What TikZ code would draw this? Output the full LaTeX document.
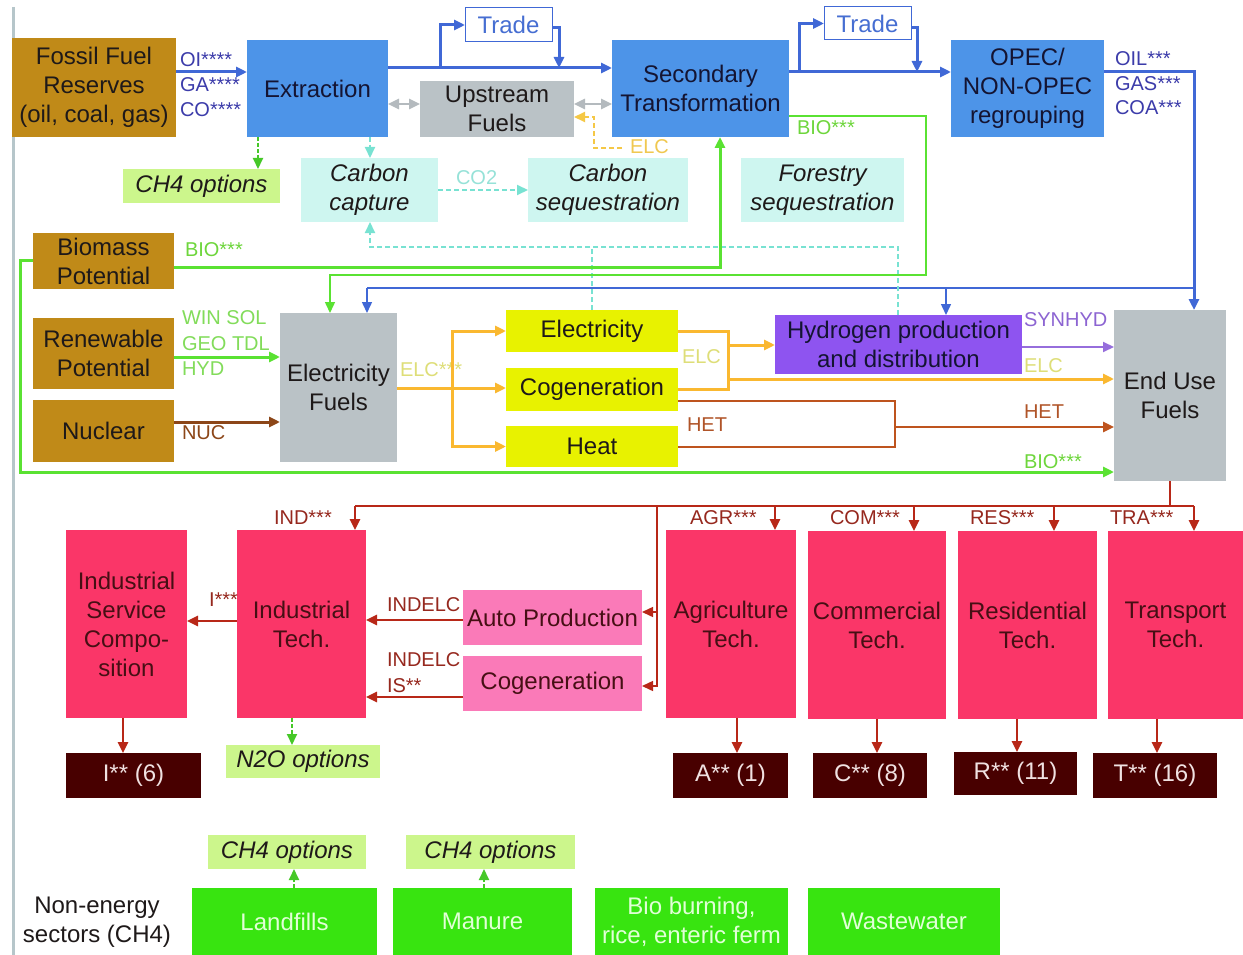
\documentclass[tikz,border=0pt]{standalone}
\usepackage{fontspec}
\setmainfont{Liberation Sans}
\usetikzlibrary{arrows.meta}
\definecolor{brownbox}{RGB}{192,138,24}
\definecolor{bluebox}{RGB}{77,148,232}
\definecolor{graybox}{RGB}{186,194,198}
\definecolor{lcyan}{RGB}{206,246,240}
\definecolor{lgreen}{RGB}{204,246,140}
\definecolor{yellowbox}{RGB}{232,242,0}
\definecolor{purplebox}{RGB}{142,84,240}
\definecolor{pinkbox}{RGB}{250,54,104}
\definecolor{lpink}{RGB}{250,122,184}
\definecolor{maroon}{RGB}{72,0,0}
\definecolor{brightgreen}{RGB}{56,228,16}
\definecolor{blueln}{RGB}{64,104,214}
\definecolor{greenln}{RGB}{90,226,50}
\definecolor{orangeln}{RGB}{250,184,48}
\definecolor{redln}{RGB}{184,40,24}
\definecolor{brownln}{RGB}{140,70,24}
\definecolor{hetln}{RGB}{190,84,30}
\definecolor{cyanln}{RGB}{120,226,210}
\definecolor{grayln}{RGB}{180,186,190}
\definecolor{purpleln}{RGB}{150,110,220}
\definecolor{bargray}{RGB}{182,198,202}
\definecolor{gdashln}{RGB}{70,200,40}
\definecolor{ydashln}{RGB}{245,200,70}
\definecolor{txtblue}{RGB}{60,60,170}
\definecolor{txtgreen}{RGB}{110,214,60}
\definecolor{txtgreenb}{RGB}{130,220,90}
\definecolor{txtelc}{RGB}{222,222,120}
\definecolor{txtelcb}{RGB}{240,200,80}
\definecolor{txthet}{RGB}{176,84,40}
\definecolor{txtred}{RGB}{150,40,30}
\definecolor{txtpurple}{RGB}{140,100,210}
\definecolor{txtcyan}{RGB}{150,226,216}
\definecolor{boxtxt}{RGB}{30,25,25}
\definecolor{bluetxt}{RGB}{20,20,50}
\definecolor{pinktxt}{RGB}{70,15,20}
\definecolor{outtxt}{RGB}{240,225,225}
\definecolor{greentxt}{RGB}{225,255,215}
\definecolor{tradetxt}{RGB}{70,110,210}
\begin{document}
\begin{tikzpicture}[x=1pt,y=-1pt,
  >={Triangle[length=11pt,width=10pt]},
  every node/.style={inner sep=0pt, outer sep=0pt, align=center, font=\fontsize{24}{29}\selectfont},
  box/.style={rectangle, text=boxtxt},
  ital/.style={font=\fontsize{24}{29}\selectfont\itshape},
  tradebox/.style={rectangle, draw=blueln, line width=1pt, fill=white, text=tradetxt},
  outbox/.style={rectangle, fill=maroon, text=outtxt},
  techbox/.style={rectangle, fill=pinkbox, text=pinktxt, minimum height=188pt},
  ngbox/.style={rectangle, fill=brightgreen, text=greentxt, minimum height=67pt},
  lbl/.style={anchor=west, font=\fontsize{20}{22}\selectfont},
  lnBlue/.style={draw=blueln, line width=3pt},
  lnBlueThin/.style={draw=blueln, line width=1.5pt},
  lnGreen/.style={draw=greenln, line width=3pt},
  lnGreenThin/.style={draw=greenln, line width=1.5pt},
  lnOrange/.style={draw=orangeln, line width=3pt},
  lnHet/.style={draw=hetln, line width=2.5pt},
  lnBrown/.style={draw=brownln, line width=3pt},
  lnPurple/.style={draw=purpleln, line width=2pt},
  lnCyan/.style={draw=cyanln, line width=2pt, dash pattern=on 5pt off 3pt},
  lnGdash/.style={draw=gdashln, line width=2pt, dash pattern=on 4pt off 2pt},
  lnGray/.style={draw=grayln, line width=2.5pt},
  lnYdash/.style={draw=ydashln, line width=2pt, dash pattern=on 5pt off 3pt},
  lnRed/.style={draw=redln, line width=2.5pt},
  lnRedThin/.style={draw=redln, line width=1.5pt}
]
\fill[white] (0,0) rectangle (1243,955);
\useasboundingbox (0,0) rectangle (1243,955);
\draw[line width=3pt, draw=bargray] (13,7) -- (13,955);

% ---- top row
\node[box, fill=brownbox, minimum width=164pt, minimum height=99pt] (fossil) at (94,87.5) {Fossil Fuel\\Reserves\\(oil, coal, gas)};
\node[box, fill=bluebox, text=bluetxt, minimum width=141pt, minimum height=97pt] (extr) at (317.5,88.5) {Extraction};
\node[box, fill=graybox, minimum width=154pt, minimum height=56pt] (upstr) at (497,109) {Upstream\\Fuels};
\node[box, fill=bluebox, text=bluetxt, minimum width=177pt, minimum height=97pt] (second) at (700.5,88.5) {Secondary\\Transformation};
\node[box, fill=bluebox, text=bluetxt, minimum width=153pt, minimum height=97pt] (opec) at (1027.5,88.5) {OPEC/\\NON-OPEC\\regrouping};
\node[tradebox, minimum width=87pt, minimum height=34pt] (trade1) at (508.5,25) {Trade};
\node[tradebox, minimum width=87pt, minimum height=33pt] (trade2) at (867.5,23.5) {Trade};

\node[box, ital, fill=lgreen, minimum width=157pt, minimum height=34pt] (ch4a) at (201.5,186) {CH4 options};
\node[box, ital, fill=lcyan, minimum width=137pt, minimum height=64pt] (ccap) at (369.5,190) {Carbon\\capture};
\node[box, ital, fill=lcyan, minimum width=160pt, minimum height=64pt] (cseq) at (608,190) {Carbon\\sequestration};
\node[box, ital, fill=lcyan, minimum width=163pt, minimum height=64pt] (fseq) at (822.5,190) {Forestry\\sequestration};

% ---- middle
\node[box, fill=brownbox, minimum width=141pt, minimum height=56pt] (biom) at (103.5,261) {Biomass\\Potential};
\node[box, fill=brownbox, minimum width=141pt, minimum height=71pt] (renew) at (103.5,353.5) {Renewable\\Potential};
\node[box, fill=brownbox, minimum width=141pt, minimum height=62pt] (nucl) at (103.5,431) {Nuclear};
\node[box, fill=graybox, minimum width=117pt, minimum height=149pt] (elfuel) at (338.5,387.5) {Electricity\\Fuels};
\node[box, fill=yellowbox, minimum width=172pt, minimum height=42pt] (elec) at (592,331) {Electricity};
\node[box, fill=yellowbox, minimum width=172pt, minimum height=43pt] (cogen) at (592,389.5) {Cogeneration};
\node[box, fill=yellowbox, minimum width=172pt, minimum height=41pt] (heat) at (592,446.5) {Heat};
\node[box, fill=purplebox, text=bluetxt, minimum width=247pt, minimum height=59pt] (hydro) at (898.5,344.5) {Hydrogen production\\and distribution};
\node[box, fill=graybox, minimum width=112pt, minimum height=171pt] (enduse) at (1170,395.5) {End Use\\Fuels};

% ---- demand
\node[techbox, minimum width=121pt] (isc) at (126.5,624) {Industrial\\Service\\Compo-\\sition};
\node[techbox, minimum width=129pt] (indt) at (301.5,624) {Industrial\\Tech.};
\node[box, fill=lpink, text=pinktxt, minimum width=179pt, minimum height=55pt] (auto) at (552.5,617.5) {Auto Production};
\node[box, fill=lpink, text=pinktxt, minimum width=179pt, minimum height=55pt] (cogen2) at (552.5,683.5) {Cogeneration};
\node[techbox, minimum width=130pt] (agri) at (731,624) {Agriculture\\Tech.};
\node[techbox, minimum width=138pt] (comm) at (877,625) {Commercial\\Tech.};
\node[techbox, minimum width=139pt] (resi) at (1027.5,625) {Residential\\Tech.};
\node[techbox, minimum width=135pt] (trans) at (1175.5,625) {Transport\\Tech.};

\node[outbox, minimum width=135pt, minimum height=45pt] (oI) at (133.5,775.5) {I** (6)};
\node[outbox, minimum width=115pt, minimum height=45pt] (oA) at (730.5,775.5) {A** (1)};
\node[outbox, minimum width=114pt, minimum height=45pt] (oC) at (870,775.5) {C** (8)};
\node[outbox, minimum width=123pt, minimum height=43pt] (oR) at (1015.5,773.5) {R** (11)};
\node[outbox, minimum width=124pt, minimum height=45pt] (oT) at (1155,775.5) {T** (16)};
\node[box, ital, fill=lgreen, minimum width=154pt, minimum height=33pt] (n2o) at (303,761.5) {N2O options};

% ---- non-energy
\node[box, ital, fill=lgreen, minimum width=158pt, minimum height=34pt] (ch4b) at (287,852) {CH4 options};
\node[box, ital, fill=lgreen, minimum width=169pt, minimum height=34pt] (ch4c) at (490.5,852) {CH4 options};
\node[ngbox, minimum width=185pt] (landf) at (284.5,921.5) {Landfills};
\node[ngbox, minimum width=179pt] (manure) at (482.5,921.5) {Manure};
\node[ngbox, minimum width=193pt] (bioburn) at (691.5,921.5) {Bio burning,\\rice, enteric ferm};
\node[ngbox, minimum width=192pt] (wastew) at (904,921.5) {Wastewater};
\node[text=boxtxt] (nonen) at (97,922) {Non-energy\\sectors (CH4)};

% ---- labels
\node[lbl, text=txtblue] (lOI) at (180,60) {OI****};
\node[lbl, text=txtblue] (lGA) at (180,85) {GA****};
\node[lbl, text=txtblue] (lCO) at (180,110) {CO****};
\node[lbl, text=txtblue] (lOIL) at (1115,59) {OIL***};
\node[lbl, text=txtblue] (lGAS) at (1115,84) {GAS***};
\node[lbl, text=txtblue] (lCOA) at (1115,108) {COA***};
\node[lbl, text=txtgreen] (lBIOa) at (797,128) {BIO***};
\node[lbl, text=txtgreen] (lBIOb) at (185,250) {BIO***};
\node[lbl, text=txtgreen] (lBIOc) at (1024,462) {BIO***};
\node[lbl, text=txtgreenb] (lWIN) at (182,318) {WIN SOL};
\node[lbl, text=txtgreenb] (lGEO) at (182,344) {GEO TDL};
\node[lbl, text=txtgreenb] (lHYD) at (182,369) {HYD};
\node[lbl, text=brownln] (lNUC) at (182,433) {NUC};
\node[lbl, text=txtelc] (lELCa) at (400,370) {ELC***};
\node[lbl, text=txtelc] (lELCb) at (682,357) {ELC};
\node[lbl, text=txtelc] (lELCc) at (1024,366) {ELC};
\node[lbl, text=txtelcb] (lELCd) at (630,147) {ELC};
\node[lbl, text=txthet] (lHETa) at (687,425) {HET};
\node[lbl, text=txthet] (lHETb) at (1024,412) {HET};
\node[lbl, text=txtpurple] (lSYN) at (1024,320) {SYNHYD};
\node[lbl, text=txtcyan] (lCO2) at (456,178) {CO2};
\node[lbl, text=txtred] (lIND) at (274,518) {IND***};
\node[lbl, text=txtred] (lAGR) at (690,518) {AGR***};
\node[lbl, text=txtred] (lCOM) at (830,518) {COM***};
\node[lbl, text=txtred] (lRES) at (970,518) {RES***};
\node[lbl, text=txtred] (lTRA) at (1110,518) {TRA***};
\node[lbl, text=txtred] (lI) at (209,600) {I***};
\node[lbl, text=txtred] (lINDa) at (387,605) {INDELC};
\node[lbl, text=txtred] (lINDb) at (387,660) {INDELC};
\node[lbl, text=txtred] (lIS) at (387,686) {IS**};

% ---- coordinates
\coordinate (t1a) at (440,68);
\coordinate (t1b) at (559,68);
\coordinate (t2a) at (799,72);
\coordinate (t2b) at (917,72);
\coordinate (bA) at (367,288);
\coordinate (bB) at (946,288);
\coordinate (bC) at (1194,288);
\coordinate (oj) at (452,388);
\coordinate (ej) at (728,345);
\coordinate (ek) at (728,379);
\coordinate (hj) at (895,427);
\coordinate (cj) at (898,247);
\coordinate (yd) at (622,148);
\coordinate (rj) at (1170,506);
\coordinate (rL) at (355,506);
\coordinate (rA) at (775,506);
\coordinate (rC) at (914,506);
\coordinate (rR) at (1054,506);
\coordinate (rT) at (1194,506);
\coordinate (rv) at (657,506);

% ---- blue flows
\draw[lnBlue,->] (fossil.east |- 0,72) -- (extr.west |- 0,72);
\draw[lnBlue,->] (extr.east |- 0,68) -- (second.west |- 0,68);
\draw[lnBlue,->] (t1a) |- (trade1.west);
\draw[lnBlue,->] (trade1.east |- 0,28) -| (t1b);
\draw[lnBlue,->] (second.east |- 0,72) -- (opec.west |- 0,72);
\draw[lnBlue,->] (t2a) |- (trade2.west);
\draw[lnBlue,->] (trade2.east |- 0,28) -| (t2b);
\draw[lnBlue,->] (opec.east |- 0,72) -| (enduse.north -| bC);
\draw[lnBlueThin] (bA) -- (bC);
\draw[lnBlueThin,->] (bA) -- (elfuel.north -| bA);
\draw[lnBlueThin,->] (bB) -- (hydro.north -| bB);

% ---- gray, dashed
\draw[lnGray,<->] (extr.east |- 0,104) -- (upstr.west |- 0,104);
\draw[lnGray,<->] (upstr.east |- 0,104) -- (second.west |- 0,104);
\draw[lnYdash,->] (yd) -| (594,117) -- (upstr.east |- 0,117);
\draw[lnGdash,->] (extr.south -| 258,0) -- (ch4a.north -| 258,0);
\draw[lnCyan,->] (extr.south -| 370,0) -- (ccap.north -| 370,0);
\draw[lnCyan,->] (ccap.east |- 0,190) -- (cseq.west |- 0,190);
\draw[lnCyan,->] (hydro.north -| cj) -- (cj) -- (370,247) -- (ccap.south -| 370,0);
\draw[lnCyan] (elec.north) -- (elec.north |- cj);

% ---- green flows
\draw[lnGreenThin,->] (second.east |- 0,116) -- (926,116) -- (926,275) -| (elfuel.north -| 330,0);
\draw[lnGreen,->] (biom.east |- 0,267) -| (second.south -| 720,0);
\draw[lnGreen,->] (biom.west |- 0,260) -- (20,260) |- (enduse.west |- 0,472);
\draw[lnGreen,->] (renew.east |- 0,357) -- (elfuel.west |- 0,357);
\draw[lnBrown,->] (nucl.east |- 0,422) -- (elfuel.west |- 0,422);

% ---- electricity / heat
\draw[lnOrange] (elfuel.east |- oj) -- (oj);
\draw[lnOrange,->] (oj) |- (elec.west);
\draw[lnOrange,->] (oj) -- (cogen.west |- oj);
\draw[lnOrange,->] (oj) |- (heat.west);
\draw[lnOrange] (elec.east) -| (ej);
\draw[lnOrange] (cogen.east) -| (ej);
\draw[lnOrange,->] (ej) -- (hydro.west |- ej);
\draw[lnOrange,->] (ek) -- (enduse.west |- ek);
\draw[lnHet] (cogen.east |- 0,401) -| (hj);
\draw[lnHet] (heat.east |- 0,447) -| (hj);
\draw[lnHet,->] (hj) -- (enduse.west |- hj);
\draw[lnPurple,->] (hydro.east |- 0,347) -- (enduse.west |- 0,347);

% ---- demand flows
\draw[lnRed] (enduse.south) -- (rj);
\draw[lnRed] (rL) -- (rT);
\draw[lnRed,->] (rL) -- (indt.north -| rL);
\draw[lnRed,->] (rA) -- (agri.north -| rA);
\draw[lnRed,->] (rC) -- (comm.north -| rC);
\draw[lnRed,->] (rR) -- (resi.north -| rR);
\draw[lnRed,->] (rT) -- (trans.north -| rT);
\draw[lnRedThin,->] (rv) |- (auto.east |- 0,612);
\draw[lnRedThin,->] (rv |- 0,612) |- (cogen2.east |- 0,686);
\draw[lnRed,->] (indt.west |- 0,621) -- (isc.east |- 0,621);
\draw[lnRed,->] (auto.west |- 0,620) -- (indt.east |- 0,620);
\draw[lnRed,->] (cogen2.west |- 0,697) -- (indt.east |- 0,697);
\draw[lnRed,->] (isc.south -| 123,0) -- (oI.north -| 123,0);
\draw[lnRed,->] (agri.south -| 737,0) -- (oA.north -| 737,0);
\draw[lnRed,->] (comm.south -| 877,0) -- (oC.north -| 877,0);
\draw[lnRed,->] (resi.south -| 1017,0) -- (oR.north -| 1017,0);
\draw[lnRed,->] (trans.south -| 1157,0) -- (oT.north -| 1157,0);
\draw[lnGdash,->] (indt.south -| 292,0) -- (n2o.north -| 292,0);
\draw[lnGdash,->] (landf.north -| 294,0) -- (ch4b.south -| 294,0);
\draw[lnGdash,->] (manure.north -| 484,0) -- (ch4c.south -| 484,0);
\end{tikzpicture}
\end{document}
